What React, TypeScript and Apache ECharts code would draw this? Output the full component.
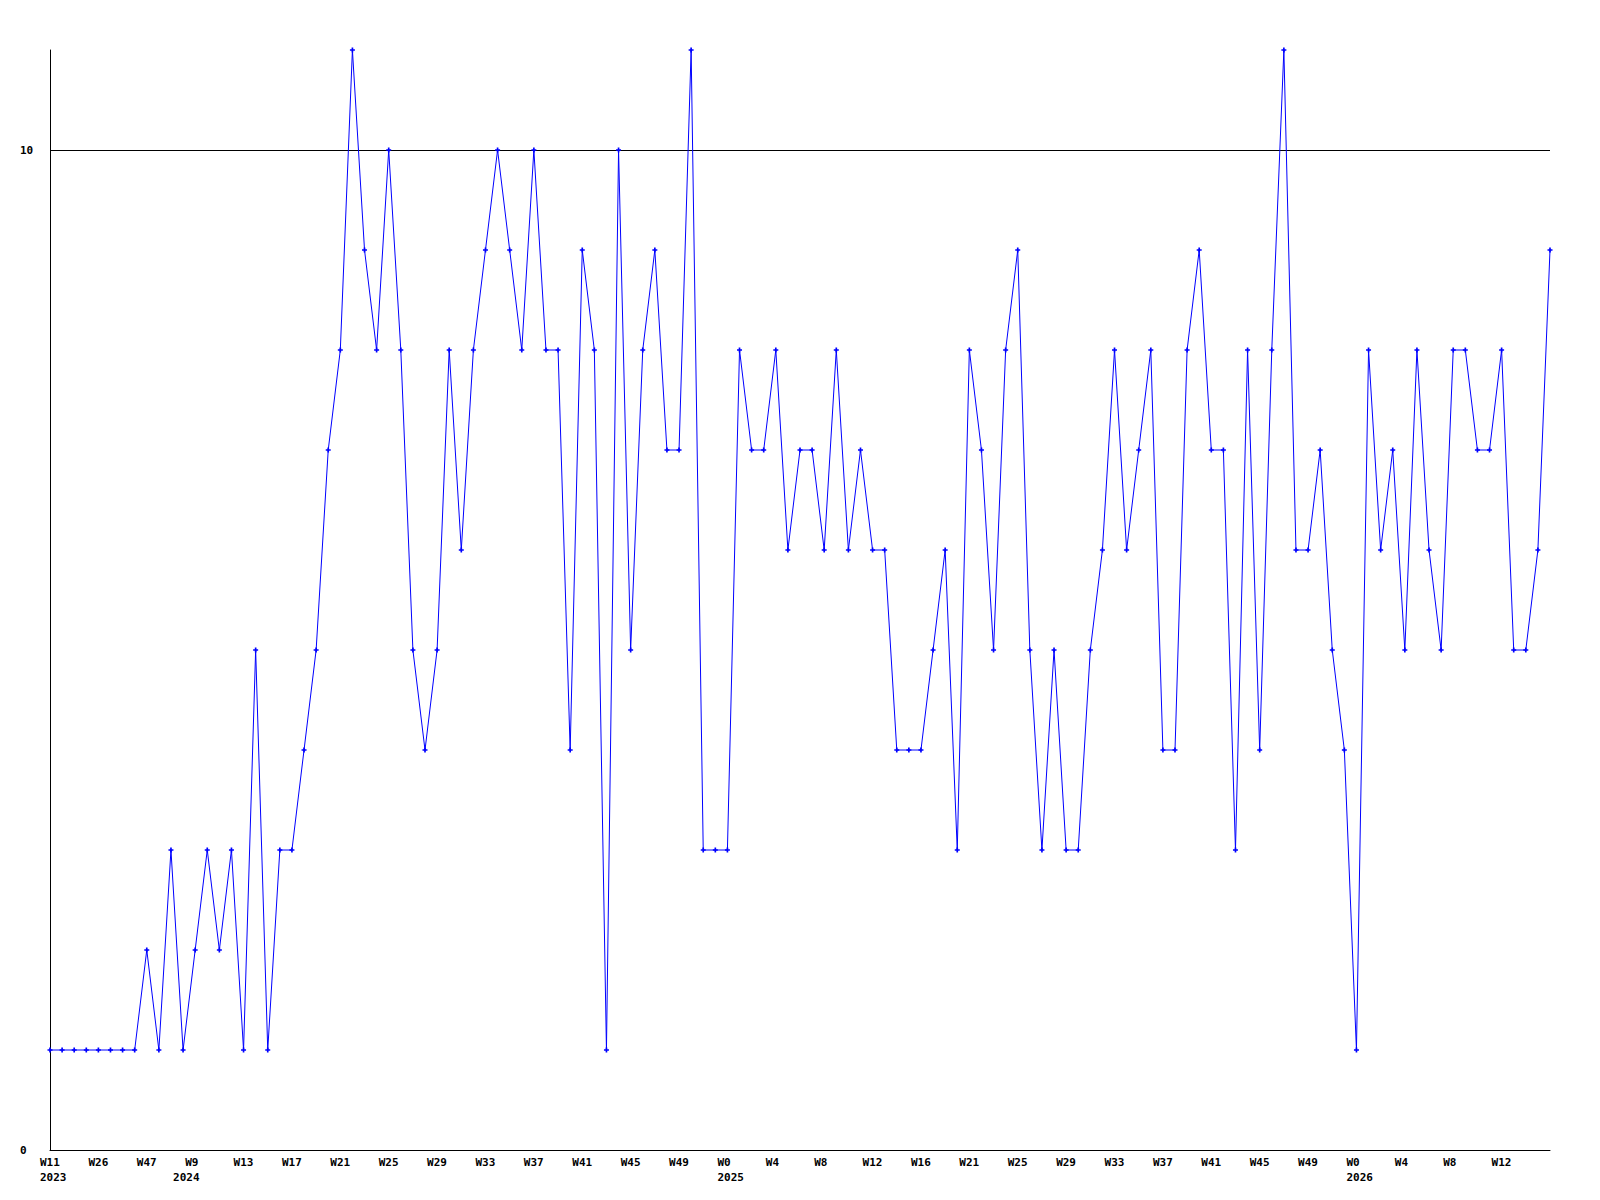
import React, { useEffect, useRef } from "react";
import * as echarts from "echarts";

const years = ["2023", "2024", "2025", "2026"];

const weeks2023 = ["W11", "W14", "W18", "W22", "W26", "W31", "W36", "W42", "W47", "W50", "W52"];
const weeks2024 = [
  "W5", "W9", "W10", "W11", "W12", "W13", "W14", "W15", "W16", "W17", "W18", "W19", "W20",
  "W21", "W22", "W23", "W24", "W25", "W26", "W27", "W28", "W29", "W30", "W31", "W32",
  "W33", "W34", "W35", "W36", "W37", "W38", "W39", "W40", "W41", "W42", "W43", "W44",
  "W45", "W46", "W47", "W48", "W49", "W50", "W51", "W52",
];
const weeks2025 = [
  "W0", "W1", "W2", "W3", "W4", "W5", "W6", "W7", "W8", "W9", "W10", "W11", "W12",
  "W13", "W14", "W15", "W16", "W17", "W18", "W20", "W21", "W22", "W23", "W24", "W25",
  "W26", "W27", "W28", "W29", "W30", "W31", "W32", "W33", "W34", "W35", "W36", "W37",
  "W38", "W39", "W40", "W41", "W42", "W43", "W44", "W45", "W46", "W47", "W48", "W49",
  "W50", "W51", "W52",
];
const weeks2026 = [
  "W0", "W1", "W2", "W3", "W4", "W5", "W6", "W7", "W8", "W9", "W10", "W11", "W12",
  "W13", "W14", "W15", "W16",
];

const values = [
  1, 1, 1, 1, 1, 1, 1, 1, 2, 1,
  3, 1, 2, 3, 2, 3, 1, 5, 1, 3,
  3, 4, 5, 7, 8, 11, 9, 8, 10, 8,
  5, 4, 5, 8, 6, 8, 9, 10, 9, 8,
  10, 8, 8, 4, 9, 8, 1, 10, 5, 8,
  9, 7, 7, 11, 3, 3, 3, 8, 7, 7,
  8, 6, 7, 7, 6, 8, 6, 7, 6, 6,
  4, 4, 4, 5, 6, 3, 8, 7, 5, 8,
  9, 5, 3, 5, 3, 3, 5, 6, 8, 6,
  7, 8, 4, 4, 8, 9, 7, 7, 3, 8,
  4, 8, 11, 6, 6, 7, 5, 4, 1, 8,
  6, 7, 5, 8, 6, 5, 8, 8, 7, 7,
  8, 5, 5, 6, 9,
];

const referenceLine = 10;
const yTicks = [0, 10];

const yearWeeks = [weeks2023, weeks2024, weeks2025, weeks2026];
const categories: string[] = [];
const yearStart: Record<number, string> = {};
yearWeeks.forEach((list, yi) => {
  yearStart[categories.length] = years[yi];
  list.forEach((w) => categories.push(w));
});

const LABEL_STEP = 4;
const LAST_LABEL = 120;
const showWeek = (i: number) => i % LABEL_STEP === 0 && i <= LAST_LABEL;

export default function App() {
  const ref = useRef<HTMLDivElement>(null);
  useEffect(() => {
    if (!ref.current) return;
    const chart = echarts.init(ref.current, undefined, { renderer: "svg" });
    const font = "DejaVu Sans Mono";
    chart.setOption({
      animation: false,
      backgroundColor: "#ffffff",
      textStyle: { fontFamily: font },
      grid: { left: 50, right: 50, top: 50, bottom: 50, containLabel: false },
      xAxis: {
        type: "category",
        data: categories,
        boundaryGap: false,
        axisLine: { show: true, lineStyle: { color: "#000", width: 1 } },
        axisTick: { show: false },
        splitLine: { show: false },
        axisLabel: {
          interval: (i: number) => showWeek(i) || yearStart[i] !== undefined,
          formatter: (value: string, i: number) =>
            (showWeek(i) ? value : "") + (yearStart[i] !== undefined ? "\n" + yearStart[i] : ""),
          color: "#000",
          fontFamily: font,
          fontWeight: "bold",
          fontSize: 11,
          lineHeight: 15,
          margin: 5,
          align: "left",
          verticalAlign: "top",
          padding: [0, 0, 0, -10],
          hideOverlap: false,
        },
      },
      yAxis: {
        type: "value",
        min: 0,
        max: 11,
        interval: 10,
        axisLine: { show: true, lineStyle: { color: "#000", width: 1 } },
        axisTick: { show: false },
        splitLine: { show: false },
        axisLabel: {
          showMaxLabel: false,
          align: "left",
          margin: 30,
          color: "#000",
          fontFamily: font,
          fontWeight: "bold",
          fontSize: 11,
          formatter: (v: number) => (yTicks.includes(v) ? String(v) : ""),
        },
      },
      series: [
        {
          type: "line",
          data: values,
          symbol: "path://M1,0H2V1H3V2H2V3H1V2H0V1H1Z",
          symbolSize: 5,
          showSymbol: true,
          showAllSymbol: true,
          lineStyle: { color: "#0000ff", width: 1 },
          itemStyle: { color: "#0000ff" },
          z: 3,
          markLine: {
            silent: true,
            symbol: ["none", "none"],
            label: { show: false },
            lineStyle: { color: "#000", width: 1, type: "solid" },
            data: [{ yAxis: referenceLine }],
            z: 2,
          },
        },
      ],
    });
    return () => chart.dispose();
  }, []);
  return (
    <div
      ref={ref}
      style={{ position: "fixed", left: 0, top: 0, width: 1600, height: 1200, background: "#fff" }}
    />
  );
}
